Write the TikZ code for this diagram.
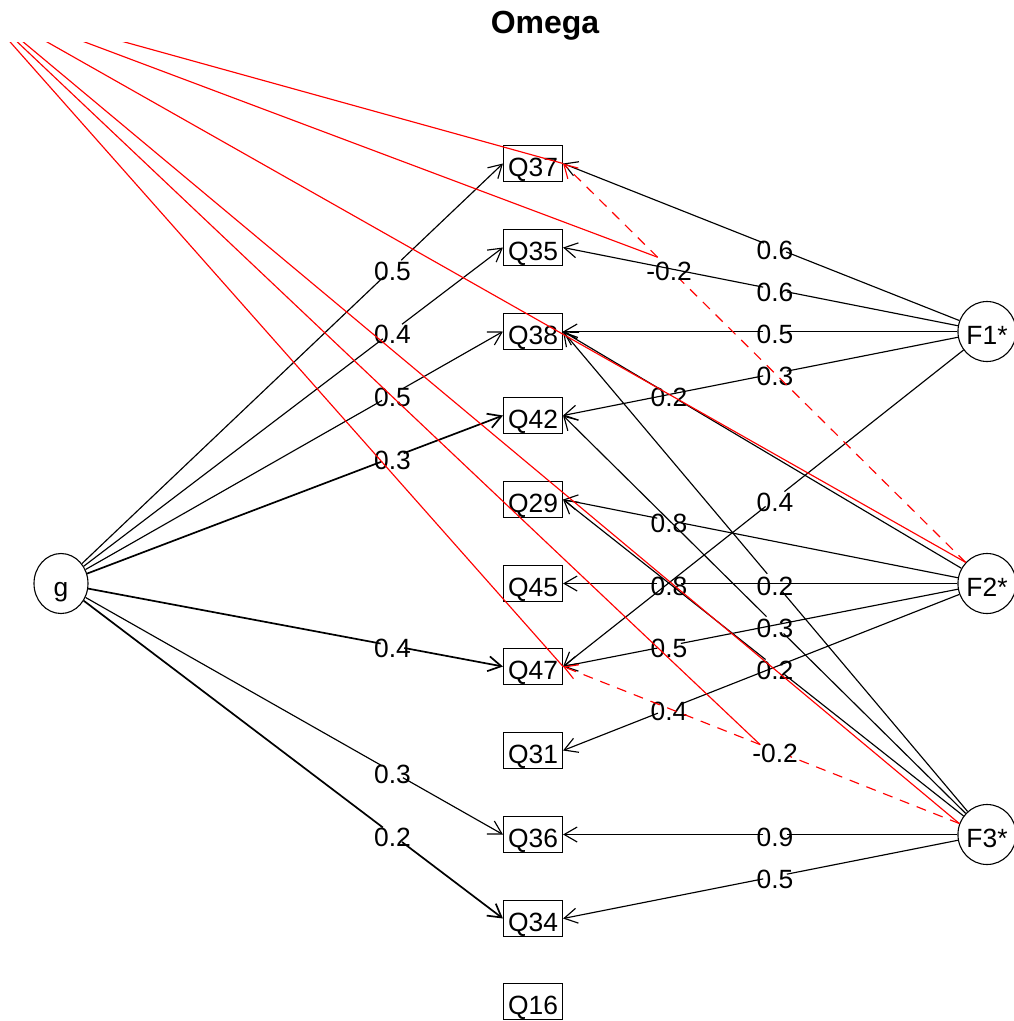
\documentclass[tikz,border=0pt]{standalone}
\usepackage{fontspec}
\setmainfont{Liberation Sans}
\usetikzlibrary{arrows.meta,calc,shapes.geometric}
\newcommand\lblfont{\fontsize{26.4}{30}\selectfont}
% #1 name, #2 from node, #3 target anchor, #4 label fraction, #5 label, #6 half gap, #7 style
\newcommand\myedge[7]{%
  \coordinate (#1c) at ($(#2)!#4!(#3)$);
  \draw[conn,#7] (#2) -- coordinate[pos=0] (#1s) ($(#1c)!#6pt!(#2)$);
  \draw[conn,#7,arr] ($(#1c)!#6pt!(#3)$) coordinate (#1g) -- (#3);
  \node[lbl] (#1) at (#1c) {#5};
}
\begin{document}
\begin{tikzpicture}[x=1pt,y=-1pt,
  conn/.style={line width=1.15pt, line join=round},
  nrm/.style={},
  dbl/.style={line width=1.7pt},
  neg/.style={red, dash pattern=on 10pt off 8pt},
  arr/.style={-{Straight Barb[length=13pt,width=15pt]}},
  lbl/.style={font=\lblfont, inner sep=0pt, yshift=-3pt},
  item/.style={draw, line width=1.1pt, rectangle, minimum width=59pt, minimum height=36pt,
    inner sep=0pt, font=\lblfont, text height=25pt, text depth=0pt},
  fac/.style={draw, line width=1.1pt, ellipse, minimum width=54pt, minimum height=60pt,
    inner sep=0pt, font=\lblfont, text height=25pt, text depth=0pt}]
\useasboundingbox (0,0) rectangle (1014,1021);
\node[font=\bfseries\fontsize{32}{38}\selectfont, anchor=base] (title) at (545,33) {Omega};
% items
\node[item] (Q37) at (533,163.5) {Q37};
\node[item] (Q35) at (533,247.5) {Q35};
\node[item] (Q38) at (533,331.5) {Q38};
\node[item] (Q42) at (533,415.5) {Q42};
\node[item] (Q29) at (533,499.5) {Q29};
\node[item] (Q45) at (533,583.5) {Q45};
\node[item] (Q47) at (533,666.5) {Q47};
\node[item] (Q31) at (533,750.5) {Q31};
\node[item] (Q36) at (533,834.5) {Q36};
\node[item] (Q34) at (533,918.5) {Q34};
\node[item] (Q16) at (533,1001.5) {Q16};
% factors
\node[fac] (g) at (61,583.5) {g};
\node[fac] (F1) at (987,331.5) {F1*};
\node[fac] (F2) at (987,583.5) {F2*};
\node[fac] (F3) at (987,834.5) {F3*};
% general factor loadings
\myedge{ga}{g}{Q37.west}{0.75}{0.5}{12}{nrm}
\myedge{gb}{g}{Q35.west}{0.75}{0.4}{12}{nrm}
\myedge{gc}{g}{Q38.west}{0.75}{0.5}{12}{nrm}
\myedge{gd}{g}{Q42.west}{0.75}{0.3}{12}{dbl}
\myedge{ge}{g}{Q47.west}{0.75}{0.4}{12}{dbl}
\myedge{gf}{g}{Q36.west}{0.75}{0.3}{12}{nrm}
\myedge{gg}{g}{Q34.west}{0.75}{0.2}{12}{dbl}
% F1*
\myedge{aa}{F1}{Q37.east}{0.5}{0.6}{12}{nrm}
\myedge{ab}{F1}{Q35.east}{0.5}{0.6}{12}{nrm}
\myedge{ac}{F1}{Q38.east}{0.5}{0.5}{12}{nrm}
\myedge{ad}{F1}{Q42.east}{0.5}{0.3}{12}{nrm}
\myedge{ae}{F1}{Q47.east}{0.5}{0.4}{12}{nrm}
% F2*
\myedge{ba}{F2}{Q37.east}{0.75}{-0.2}{16}{neg}
\myedge{bb}{F2}{Q38.east}{0.75}{0.2}{12}{nrm}
\myedge{bc}{F2}{Q29.east}{0.75}{0.8}{12}{nrm}
\myedge{bd}{F2}{Q45.east}{0.75}{0.8}{12}{nrm}
\myedge{be}{F2}{Q47.east}{0.75}{0.5}{12}{nrm}
\myedge{bf}{F2}{Q31.east}{0.75}{0.4}{12}{nrm}
% F3*
\myedge{ca}{F3}{Q38.east}{0.5}{0.2}{12}{nrm}
\myedge{cb}{F3}{Q42.east}{0.5}{0.3}{12}{nrm}
\myedge{cc}{F3}{Q29.east}{0.5}{0.2}{12}{nrm}
\myedge{cd}{F3}{Q47.east}{0.5}{-0.2}{16}{neg}
\myedge{ce}{F3}{Q36.east}{0.5}{0.9}{12}{nrm}
\myedge{cf}{F3}{Q34.east}{0.5}{0.5}{12}{nrm}
% red stray segments, clipped to the plot region
\coordinate (O) at (-27,0);
\begin{scope}
\clip (0,42) rectangle (1014,1021);
\draw[conn, red] (O) -- (Q37.east);
\draw[conn, red] (O) -- (bag);
\draw[conn, red] (O) -- (bas);
\draw[conn, red] (O) -- (Q47.east);
\draw[conn, red] (O) -- (cdg);
\draw[conn, red] (O) -- (cds);
\end{scope}
\end{tikzpicture}
\end{document}
